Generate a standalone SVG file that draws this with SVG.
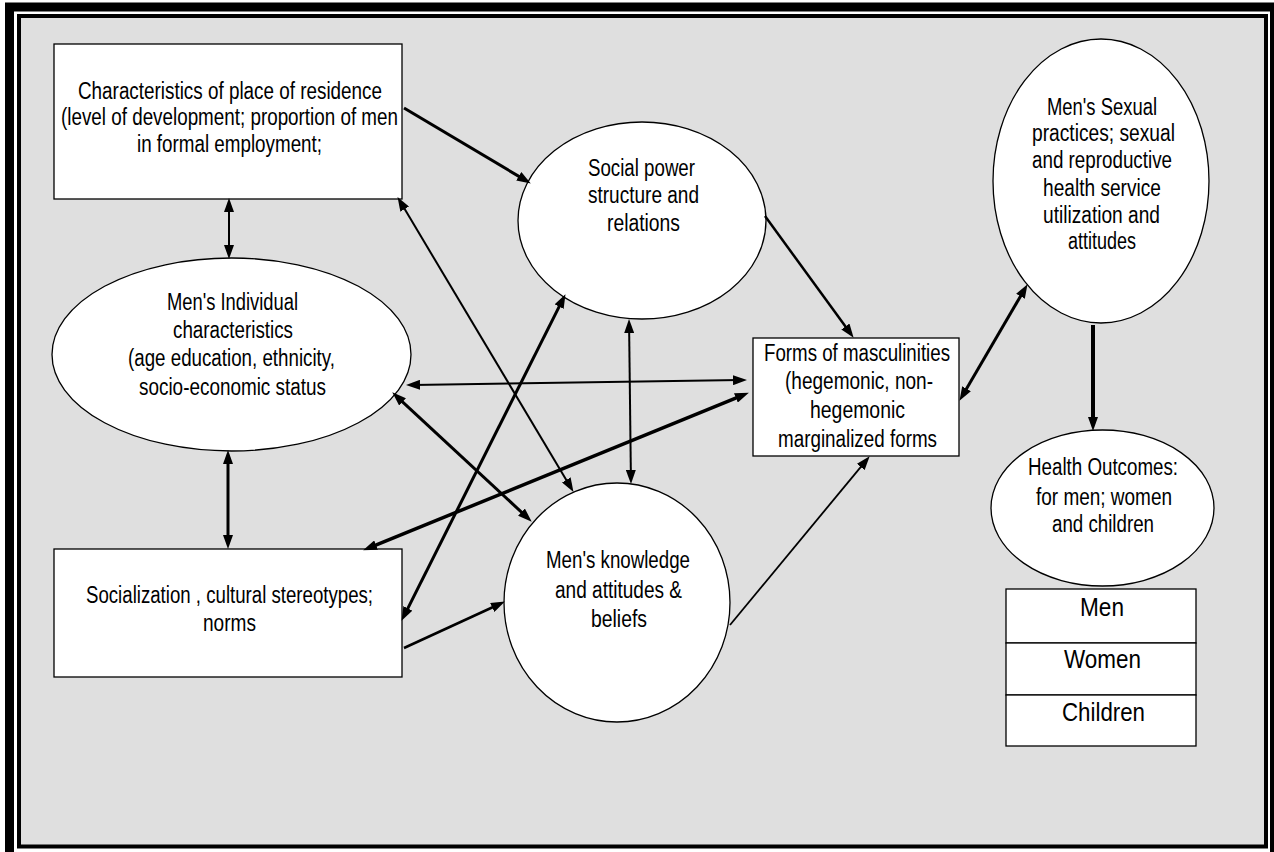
<svg xmlns="http://www.w3.org/2000/svg" width="1274" height="852" viewBox="0 0 1274 852">
<defs>
<style>
.frame-outer{fill:none;stroke:#000;stroke-width:9}
.frame-inner{fill:#dfdfdf;stroke:#000;stroke-width:4}
.node{fill:#fff;stroke:#000;stroke-width:1.3}
.lbl{font-family:"Liberation Sans",Arial,sans-serif;font-size:23px;fill:#000;text-anchor:middle}
.big{font-size:25px}
.c{fill:none;stroke:#000}
</style>
<marker id="ah" viewBox="0 0 14 10" refX="7" refY="5" markerWidth="14" markerHeight="10" markerUnits="userSpaceOnUse" orient="auto-start-reverse">
<path d="M0,0 L14,5 L0,10 z" fill="#000"/>
</marker>
</defs>
<path class="frame-outer" d="M9.5,870 V7 H1274.5 V870"/>
<rect class="frame-inner" x="19" y="16" width="1247" height="830.5"/>

<g id="residence">
<rect class="node" x="54" y="44" width="348" height="155"/>
<text class="lbl" x="230" y="99" textLength="304" lengthAdjust="spacingAndGlyphs">Characteristics of place of residence</text>
<text class="lbl" x="229.5" y="125" textLength="337" lengthAdjust="spacingAndGlyphs">(level of development; proportion of men</text>
<text class="lbl" x="229.5" y="152" textLength="185" lengthAdjust="spacingAndGlyphs">in formal employment;</text>
</g>

<g id="individual">
<ellipse class="node" cx="231.5" cy="354.5" rx="179.5" ry="96.5"/>
<text class="lbl" x="232.5" y="310" textLength="131" lengthAdjust="spacingAndGlyphs">Men's Individual</text>
<text class="lbl" x="233" y="338" textLength="120" lengthAdjust="spacingAndGlyphs">characteristics</text>
<text class="lbl" x="231.5" y="366" textLength="207" lengthAdjust="spacingAndGlyphs">(age education, ethnicity,</text>
<text class="lbl" x="232.5" y="395" textLength="187" lengthAdjust="spacingAndGlyphs">socio-economic status</text>
</g>

<g id="socialization">
<rect class="node" x="54" y="549" width="348" height="128"/>
<text class="lbl" x="229.5" y="603" textLength="287" lengthAdjust="spacingAndGlyphs">Socialization , cultural stereotypes;</text>
<text class="lbl" x="229.5" y="631" textLength="53" lengthAdjust="spacingAndGlyphs">norms</text>
</g>

<g id="social-power">
<ellipse class="node" cx="642" cy="220.5" rx="124" ry="98.5"/>
<text class="lbl" x="641.5" y="176" textLength="107" lengthAdjust="spacingAndGlyphs">Social power</text>
<text class="lbl" x="643.5" y="203" textLength="111" lengthAdjust="spacingAndGlyphs">structure and</text>
<text class="lbl" x="643.5" y="231" textLength="73" lengthAdjust="spacingAndGlyphs">relations</text>
</g>

<g id="knowledge">
<ellipse class="node" cx="617" cy="602.5" rx="113" ry="119.5"/>
<text class="lbl" x="618" y="568" textLength="144" lengthAdjust="spacingAndGlyphs">Men's knowledge</text>
<text class="lbl" x="618.5" y="598" textLength="127" lengthAdjust="spacingAndGlyphs">and attitudes &amp;</text>
<text class="lbl" x="619" y="627" textLength="56" lengthAdjust="spacingAndGlyphs">beliefs</text>
</g>

<g id="masculinities">
<rect class="node" x="753" y="338" width="206" height="118"/>
<text class="lbl" x="857" y="361" textLength="186" lengthAdjust="spacingAndGlyphs">Forms of masculinities</text>
<text class="lbl" x="859" y="389" textLength="148" lengthAdjust="spacingAndGlyphs">(hegemonic, non-</text>
<text class="lbl" x="857.5" y="418" textLength="95" lengthAdjust="spacingAndGlyphs">hegemonic</text>
<text class="lbl" x="857.5" y="447" textLength="159" lengthAdjust="spacingAndGlyphs">marginalized forms</text>
</g>

<g id="sexual-practices">
<ellipse class="node" cx="1101" cy="181" rx="108" ry="142"/>
<text class="lbl" x="1102" y="115" textLength="110" lengthAdjust="spacingAndGlyphs">Men's Sexual</text>
<text class="lbl" x="1103.5" y="141" textLength="143" lengthAdjust="spacingAndGlyphs">practices; sexual</text>
<text class="lbl" x="1102" y="168" textLength="140" lengthAdjust="spacingAndGlyphs">and reproductive</text>
<text class="lbl" x="1102" y="196" textLength="118" lengthAdjust="spacingAndGlyphs">health service</text>
<text class="lbl" x="1101.5" y="223" textLength="117" lengthAdjust="spacingAndGlyphs">utilization and</text>
<text class="lbl" x="1102" y="249" textLength="68" lengthAdjust="spacingAndGlyphs">attitudes</text>
</g>

<g id="health-outcomes">
<ellipse class="node" cx="1102.5" cy="508" rx="111.5" ry="78"/>
<text class="lbl" x="1103" y="475" textLength="150" lengthAdjust="spacingAndGlyphs">Health Outcomes:</text>
<text class="lbl" x="1104" y="505" textLength="136" lengthAdjust="spacingAndGlyphs">for men; women</text>
<text class="lbl" x="1103" y="532" textLength="102" lengthAdjust="spacingAndGlyphs">and children</text>
</g>

<g id="men">
<rect class="node" x="1006" y="589" width="190" height="54"/>
<text class="lbl big" x="1102" y="616" textLength="44" lengthAdjust="spacingAndGlyphs">Men</text>
</g>
<g id="women">
<rect class="node" x="1006" y="643" width="190" height="52"/>
<text class="lbl big" x="1102.5" y="668" textLength="77" lengthAdjust="spacingAndGlyphs">Women</text>
</g>
<g id="children">
<rect class="node" x="1006" y="695" width="190" height="51"/>
<text class="lbl big" x="1103.5" y="721" textLength="83" lengthAdjust="spacingAndGlyphs">Children</text>
</g>

<g id="connectors">
<line class="c" stroke-width="2" x1="229" y1="205" x2="229" y2="252" marker-start="url(#ah)" marker-end="url(#ah)"/>
<line class="c" stroke-width="3" x1="228" y1="457" x2="228" y2="542" marker-start="url(#ah)" marker-end="url(#ah)"/>
<line class="c" stroke-width="3" x1="404" y1="108" x2="524.8" y2="179.9" marker-end="url(#ah)"/>
<line class="c" stroke-width="2" x1="401.1" y1="203.1" x2="569.9" y2="485.9" marker-start="url(#ah)" marker-end="url(#ah)"/>
<line class="c" stroke-width="2.5" x1="765" y1="216" x2="849.5" y2="332.1" marker-end="url(#ah)"/>
<line class="c" stroke-width="2" x1="413" y1="384.9" x2="740" y2="380.1" marker-start="url(#ah)" marker-end="url(#ah)"/>
<line class="c" stroke-width="3.5" x1="369.6" y1="547.7" x2="742.4" y2="395.3" marker-start="url(#ah)" marker-end="url(#ah)"/>
<line class="c" stroke-width="3" x1="397.4" y1="397.1" x2="526.6" y2="516.9" marker-start="url(#ah)" marker-end="url(#ah)"/>
<line class="c" stroke-width="3" x1="562.3" y1="300.4" x2="404.7" y2="614.6" marker-start="url(#ah)" marker-end="url(#ah)"/>
<line class="c" stroke-width="2" x1="629.1" y1="326" x2="630.9" y2="477" marker-start="url(#ah)" marker-end="url(#ah)"/>
<line class="c" stroke-width="2.5" x1="404" y1="648" x2="498.6" y2="604.5" marker-end="url(#ah)"/>
<line class="c" stroke-width="1.8" x1="730" y1="625" x2="865.2" y2="461.6" marker-end="url(#ah)"/>
<line class="c" stroke-width="3" x1="963" y1="394.8" x2="1024" y2="290.2" marker-start="url(#ah)" marker-end="url(#ah)"/>
<line class="c" stroke-width="4" x1="1093" y1="325" x2="1093" y2="424" marker-end="url(#ah)"/>
</g>
</svg>
